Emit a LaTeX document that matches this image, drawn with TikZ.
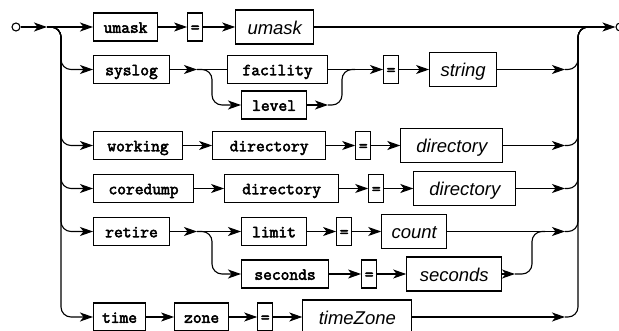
\documentclass[tikz,border=0pt]{standalone}
\usepackage{fontspec}
\newfontfamily\railmono{Latin Modern Mono}[FakeBold=3]
\newfontfamily\railsans{Liberation Sans}
\usetikzlibrary{positioning, arrows.meta}
\tikzset{
  rbox/.style={draw, line width=1.1pt, inner sep=0pt},
  rkw/.style={rbox, minimum width=#1pt, minimum height=28pt, text height=11.5pt, text depth=0pt,
              font=\railmono\fontsize{17}{18}\selectfont},
  req/.style={rkw=15},
  rnt/.style={rbox, minimum width=#1pt, minimum height=34pt, text height=15pt, text depth=0pt,
              font=\railsans\itshape\fontsize{18.5}{20}\selectfont},   % nonterminal
  rdot/.style={rbox, circle, minimum size=8pt},
  rwire/.style={line width=1.1pt},
  rarr/.style={rwire, -{Stealth[length=13pt, width=9pt, inset=3.5pt]}},
}
\begin{document}
\begin{tikzpicture}[x=1pt, y=-1pt, node distance=29pt]
  \useasboundingbox (0,0) rectangle (619,331);
  \node[rdot] (start) at (16,27) {};
  \node[rdot] (stop) at (620,27) {};
  \coordinate (split) at (47,27);
  \coordinate (lbar) at (61,27);
  \coordinate (rin) at (565,27);
  \coordinate (rbar) at (578,27);
  \coordinate (rout) at (590,27);
  % umask
  \node[rkw=64, anchor=west] (umask) at (93,27) {umask};
  \node[req, right=of umask] (eq1) {=};
  \node[rnt=78, right=32pt of eq1] (umaskv) {umask};
  % syslog
  \node[rkw=76, anchor=west] (syslog) at (93,69.5) {syslog};
  \node[rkw=100, anchor=west] (facility) at (227,69.5) {facility};
  \node[rkw=65, anchor=west] (level) at (241,105) {level};
  \node[req, anchor=west] (eq2) at (383,69.5) {=};
  \node[rnt=67, right=30pt of eq2] (string) {string};
  \coordinate (fork2) at (197,69.5);
  \coordinate (drop2) at (212,69.5);
  \coordinate (lend) at (328,105);
  \coordinate (join2) at (342,69.5);
  \coordinate (jout2) at (355,69.5);
  % working directory
  \node[rkw=89, anchor=west] (working) at (93,145.5) {working};
  \node[rkw=113, right=of working] (workdir) {directory};
  \node[req, right=of workdir] (eq3) {=};
  \node[rnt=102, right=of eq3] (workdirv) {directory};
  % coredump directory
  \node[rkw=100, anchor=west] (coredump) at (93,188.5) {coredump};
  \node[rkw=114, right=30pt of coredump] (coredir) {directory};
  \node[req, right=of coredir] (eq4) {=};
  \node[rnt=102, right=of eq4] (coredirv) {directory};
  % retire
  \node[rkw=76, anchor=west] (retire) at (93,231.5) {retire};
  \node[rkw=65, anchor=west] (limit) at (241,231.5) {limit};
  \node[req, right=of limit] (eq5) {=};
  \node[rnt=65, right=of eq5] (count) {count};
  \node[rkw=87, anchor=west] (seconds) at (241,274) {seconds};
  \node[req, right=32pt of seconds] (eq6) {=};
  \node[rnt=95, right=of eq6] (secondsv) {seconds};
  \coordinate (fork5) at (197,231.5);
  \coordinate (drop5) at (212,231.5);
  \coordinate (send) at (515,274);
  \coordinate (join5) at (532,231.5);
  \coordinate (jout5) at (545,231.5);
  % time zone
  \node[rkw=52, anchor=west] (time) at (93,317) {time};
  \node[rkw=54, right=28pt of time] (zone) {zone};
  \node[req, right=28pt of zone] (eq7) {=};
  \node[rnt=109, right=of eq7] (tzv) {timeZone};

  \draw[rarr] (start) -- (split);
  \draw[rarr] (split) -- (umask);
  \foreach \n in {syslog, working, coredump, retire, time}
    \draw[rarr, rounded corners=10pt] (split) -| (lbar |- \n.west) -- (\n.west);
  \draw[rarr] (umask) -- (eq1);
  \draw[rarr] (eq1) -- (umaskv);
  \draw[rarr] (umaskv) -- (stop);

  \draw[rarr] (syslog) -- (fork2);
  \draw[rwire] (fork2) -- (facility);
  \draw[rarr, rounded corners=10pt] (fork2) -| (drop2 |- level.west) -- (level.west);
  \draw[rarr] (facility) -- (eq2);
  \draw[rarr] (level) -- (lend);
  \draw[rwire, rounded corners=10pt] (lend) -| (join2) -- (jout2);
  \draw[rarr] (eq2) -- (string);

  \draw[rarr] (working) -- (workdir);
  \draw[rarr] (workdir) -- (eq3);
  \draw[rarr] (eq3) -- (workdirv);
  \draw[rarr] (coredump) -- (coredir);
  \draw[rarr] (coredir) -- (eq4);
  \draw[rarr] (eq4) -- (coredirv);

  \draw[rarr] (retire) -- (fork5);
  \draw[rarr] (fork5) -- (limit);
  \draw[rarr, rounded corners=10pt] (fork5) -| (drop5 |- seconds.west) -- (seconds.west);
  \draw[rarr] (limit) -- (eq5);
  \draw[rarr] (eq5) -- (count);
  \draw[rarr] (seconds) -- (eq6);
  \draw[rarr] (eq6) -- (secondsv);
  \draw[rarr] (secondsv) -- (send);
  \draw[rwire, rounded corners=10pt] (send) -| (join5) -- (jout5);

  \draw[rarr] (time) -- (zone);
  \draw[rarr] (zone) -- (eq7);
  \draw[rarr] (eq7) -- (tzv);

  \foreach \n in {string, workdirv, coredirv, count, tzv} {
    \draw[rarr] (\n) -- (rin |- \n);
    \draw[rwire, rounded corners=10pt] (rin |- \n) -| (rbar) -- (rout);
  }
\end{tikzpicture}
\end{document}
